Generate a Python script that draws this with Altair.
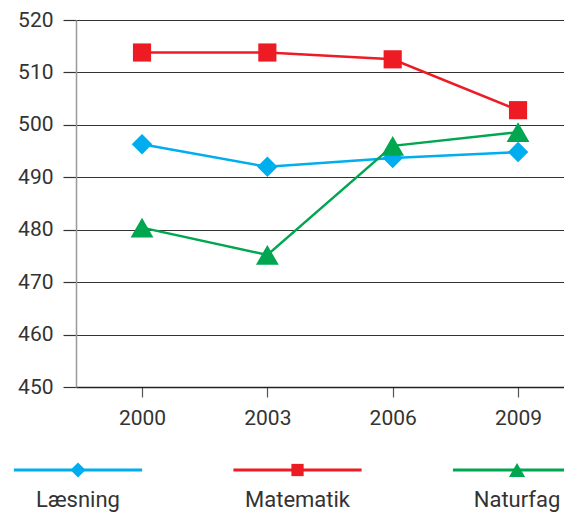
import altair as alt
import pandas as pd

years = [2000, 2003, 2006, 2009]
series_names = ["Læsning", "Matematik", "Naturfag"]
laesning = [496.3, 492.0, 493.7, 494.8]
matematik = [513.8, 513.8, 512.5, 502.8]
naturfag = [480.4, 475.2, 496.0, 498.6]
colors = ["#00AEEF", "#ED1C24", "#00A650"]
shapes = ["diamond", "square", "triangle-up"]
marker_sizes = [420, 330, 520]
legend_marker_sizes = [225, 150, 260]
y_ticks = [450, 460, 470, 480, 490, 500, 510, 520]

rows = []
for name, vals in zip(series_names, [laesning, matematik, naturfag]):
    for yr, v in zip(years, vals):
        rows.append({"year": yr, "score": v, "series": name})
df = pd.DataFrame(rows)

leg = pd.DataFrame({"series": series_names, "pos": [0, 1, 2]})

FONT = "Roboto"
color_scale = alt.Scale(domain=series_names, range=colors)
shape_scale = alt.Scale(domain=series_names, range=shapes)

xs = alt.Scale(domain=[1998.42, 2010.1], nice=False, zero=False)
ys = alt.Scale(domain=[450, 520], nice=False, zero=False)

base = alt.Chart(df)
lines = base.mark_line(strokeWidth=2.5).encode(
    x=alt.X("year:Q", scale=xs, title=None,
            axis=alt.Axis(values=years, format="d", grid=False)),
    y=alt.Y("score:Q", scale=ys, title=None,
            axis=alt.Axis(values=y_ticks, grid=True)),
    color=alt.Color("series:N", scale=color_scale, legend=None),
)

point_layers = []
for name, sz in zip(series_names, marker_sizes):
    point_layers.append(
        base.transform_filter(alt.datum.series == name).mark_point(filled=True, opacity=1, size=sz).encode(
            x=alt.X("year:Q", scale=xs, axis=None),
            y=alt.Y("score:Q", scale=ys),
            color=alt.Color("series:N", scale=color_scale, legend=None),
            shape=alt.Shape("series:N", scale=shape_scale, legend=None),
        )
    )

lxs = alt.Scale(domain=[-0.0091, 2.214], nice=False, zero=False)
lbase = alt.Chart(leg).transform_calculate(lo="datum.pos - 0.292", hi="datum.pos + 0.292")
lrule = lbase.mark_rule(strokeWidth=3).encode(
    x=alt.X("lo:Q", scale=lxs, axis=None),
    x2="hi:Q",
    y=alt.value(450),
    color=alt.Color("series:N", scale=color_scale, legend=None),
)
lpt_layers = []
for name, sz in zip(series_names, legend_marker_sizes):
    lpt_layers.append(
        lbase.transform_filter(alt.datum.series == name).mark_point(filled=True, opacity=1, size=sz).encode(
            x=alt.X("pos:Q", scale=lxs, axis=None),
            y=alt.value(450),
            color=alt.Color("series:N", scale=color_scale, legend=None),
            shape=alt.Shape("series:N", scale=shape_scale, legend=None),
        )
    )
ltext = lbase.mark_text(font=FONT, fontSize=22, color="#333", baseline="alphabetic", align="center").encode(
    x=alt.X("pos:Q", scale=lxs, axis=None),
    y=alt.value(487),
    text="series:N",
)

chart = alt.layer(lines, *point_layers, lrule, *lpt_layers, ltext).resolve_scale(
    x="independent"
).properties(
    width=488, height=367,
    padding={"left": 68, "top": 12, "right": 0, "bottom": 125},
    autosize=alt.AutoSizeParams(type="none"),
).configure_view(stroke=None).configure_axisY(
    gridColor="#333", gridWidth=1.2, tickColor="#333", tickSize=13, tickWidth=1.2,
    domainColor="#999", domainWidth=1.5, labelFontSize=21, labelColor="#333",
    labelFont=FONT, labelPadding=10,
).configure_axisX(
    domainColor="#222", domainWidth=1.5, tickColor="#555", tickSize=10, tickWidth=1.2,
    labelFontSize=21, labelColor="#333", labelFont=FONT, labelPadding=10,
)

chart.save("out.html", embed_options={"renderer": "svg", "actions": False})
